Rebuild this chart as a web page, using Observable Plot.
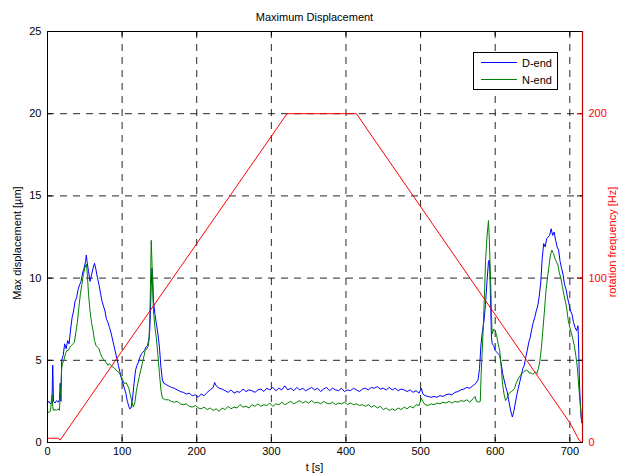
<!DOCTYPE html>
<html><head><meta charset="utf-8">
<script src="https://cdn.jsdelivr.net/npm/d3@7"></script>
<script src="https://cdn.jsdelivr.net/npm/@observablehq/plot@0.6"></script>
<style>
body{margin:0;background:#fff}
svg{font-family:"Liberation Sans",Arial,Helvetica,sans-serif}
</style>
</head><body><div id="chart"></div>
<script>
const title = "Maximum Displacement";
const xLabel = "t [s]";
const yLabel = "Max displacement [µm]";
const y2Label = "rotation frequency [Hz]";
const seriesNames = ["D-end", "N-end"];
const xTicks = [0, 100, 200, 300, 400, 500, 600, 700];
const yTicks = [0, 5, 10, 15, 20, 25];
const y2Ticks = [0, 100, 200];

// D-end [t (s), displacement (µm)]
const dEnd = [[0,2.4],[2,2.5],[4,2.35],[6,2.45],[7,4.7],[8,2.5],[10,2.4],[12,2.55],[14,2.45],[16,2.6],[17,3.6],[18,2.5],[19,5.0],[21,5.3],[23,6.0],[25,5.7],[27,6.2],[29,6.0],[31,6.9],[33,7.6],[35,8.0],[37,8.6],[39,8.8],[41,9.3],[43,9.6],[45,9.8],[47,10.3],[49,10.6],[51,11.0],[52,11.4],[53,11.0],[55,10.4],[57,9.8],[59,10.2],[61,10.6],[63,10.9],[65,10.5],[67,10.0],[69,9.6],[71,9.1],[73,8.6],[75,8.3],[77,8.0],[79,7.5],[81,7.3],[83,7.0],[85,6.7],[87,6.3],[89,5.9],[91,5.5],[93,5.1],[95,4.7],[97,4.3],[99,3.9],[101,3.6],[103,3.3],[105,3.0],[107,2.5],[109,2.2],[110,2.05],[112,2.1],[114,2.7],[116,3.6],[118,4.4],[120,4.7],[122,4.9],[124,5.2],[126,5.4],[128,5.5],[130,5.6],[132,5.8],[134,5.9],[136,6.3],[137,6.8],[138,8.0],[139,9.6],[140,10.6],[141,10.0],[142,8.6],[144,7.8],[146,7.2],[148,6.6],[150,5.8],[152,4.6],[154,3.8],[156,3.6],[158,3.55],[160,3.5],
[162,3.45],[166,3.35],[170,3.3],[174,3.2],[178,3.1],[182,3.05],[186,2.95],[190,3.0],[194,2.85],[198,2.9],[202,2.75],[206,2.95],[210,2.85],[214,3.05],[218,3.2],[222,3.35],[224,3.65],[226,3.45],[230,3.3],[234,3.25],[238,3.15],[242,3.05],[246,3.2],[250,3.0],[254,3.1],[258,3.05],[262,3.25],[266,3.1],[270,3.2],[274,3.15],[278,3.05],[282,3.2],[286,3.25],[290,3.1],[294,3.3],[298,3.2],[302,3.35],[306,3.15],[310,3.3],[314,3.2],[318,3.45],[322,3.2],[326,3.3],[330,3.15],[334,3.35],[338,3.2],[342,3.3],[346,3.15],[350,3.25],[354,3.35],[358,3.2],[362,3.3],[366,3.1],[370,3.25],[374,3.35],[378,3.15],[382,3.3],[386,3.2],[390,3.15],[394,3.3],[398,3.1],[402,3.2],[406,3.15],[410,3.3],[414,3.2],[418,3.1],[422,3.25],[426,3.3],[430,3.2],[434,3.35],[438,3.3],[442,3.4],[446,3.25],[450,3.3],[454,3.2],[458,3.35],[462,3.2],[466,3.3],[470,3.15],[474,3.25],[478,3.2],[482,3.1],[486,3.2],[490,3.05],[494,3.15],[498,3.0],[501,3.3],[503,2.95],[506,2.85],[510,2.8],[514,2.75],[518,2.8],[522,2.75],[526,2.85],[530,2.8],[534,2.9],[538,2.95],[542,2.9],[546,3.05],[550,3.1],[554,3.2],[558,3.25],[562,3.35],[566,3.3],[570,3.45],[574,3.6],[577,3.8],
[579,4.5],[581,6.0],[583,6.8],[585,7.4],[587,8.4],[589,9.8],[591,11.0],[592,11.1],[593,10.2],[594,8.2],[595,6.4],[596,6.0],[598,5.9],[600,5.6],[602,5.5],[604,5.4],[606,5.3],[608,4.8],[610,4.2],[612,3.8],[614,3.4],[616,3.1],[618,2.6],[620,2.1],[622,1.7],[623,1.55],[625,1.9],[627,2.4],[629,2.9],[631,3.3],[633,3.7],[635,4.1],[637,4.5],[639,4.7],[641,5.2],[643,5.6],[645,6.1],[647,6.4],[649,6.9],[651,7.3],[653,7.6],[655,8.0],[657,8.3],[659,8.9],[661,9.7],[663,11.2],[665,12.1],[667,11.9],[669,12.4],[671,12.5],[673,12.6],[675,13.0],[677,12.6],[679,12.8],[681,12.3],[683,11.9],[685,11.7],[687,11.0],[689,10.6],[691,10.2],[693,9.6],[695,9.3],[697,8.8],[699,8.4],[701,8.0],[703,7.8],[705,7.3],[707,7.0],[709,6.8],[711,7.1],[712,5.5],[713,3.5],[714,2.5],[715,1.6],[716,1.2]];

// N-end [t (s), displacement (µm)]
const nEnd = [[0,1.8],[2,1.85],[4,1.9],[6,2.9],[7,2.2],[8,1.95],[10,2.0],[12,1.95],[14,2.05],[16,1.95],[17,2.9],[18,3.4],[19,4.5],[20,4.8],[22,5.0],[24,5.4],[26,5.6],[28,5.6],[30,5.8],[32,5.9],[34,6.0],[36,6.1],[38,6.7],[40,7.3],[42,8.2],[44,9.0],[46,9.6],[48,10.2],[50,10.6],[52,10.85],[53,10.5],[55,9.0],[57,8.0],[59,7.3],[61,6.8],[63,6.2],[65,5.9],[67,5.8],[69,5.7],[71,5.4],[73,5.2],[75,5.05],[77,4.95],[79,4.85],[81,4.7],[83,4.8],[85,4.7],[87,4.6],[89,4.55],[91,4.45],[93,4.35],[95,4.3],[97,4.15],[99,4.0],[101,3.8],[103,3.55],[105,3.65],[107,3.5],[109,3.3],[111,2.9],[113,2.5],[115,2.15],[117,2.4],[119,3.1],[121,3.6],[123,4.0],[125,4.4],[127,4.8],[129,5.2],[131,5.6],[133,5.7],[135,5.85],[136,6.2],[137,7.5],[138,9.5],[139,12.3],[140,11.0],[141,9.2],[142,8.0],[144,7.0],[146,6.3],[148,5.3],[150,4.2],[152,3.2],[154,2.7],[156,2.65],[158,2.6],
[162,2.6],[166,2.5],[170,2.45],[174,2.5],[178,2.35],[182,2.3],[186,2.35],[190,2.2],[194,2.15],[198,2.25],[202,2.1],[206,2.05],[210,2.15],[214,2.0],[218,2.1],[222,1.95],[226,2.05],[230,1.9],[234,2.1],[238,2.0],[242,2.2],[246,2.05],[250,2.15],[254,2.1],[258,2.3],[262,2.15],[266,2.2],[270,2.1],[274,2.3],[278,2.2],[282,2.35],[286,2.2],[290,2.3],[294,2.25],[298,2.4],[302,2.2],[306,2.35],[310,2.3],[314,2.45],[318,2.3],[322,2.4],[326,2.5],[330,2.35],[334,2.45],[338,2.55],[342,2.4],[346,2.5],[350,2.4],[354,2.55],[358,2.4],[362,2.45],[366,2.35],[370,2.5],[374,2.4],[378,2.35],[382,2.45],[386,2.3],[390,2.4],[394,2.35],[398,2.45],[402,2.3],[406,2.4],[410,2.3],[414,2.35],[418,2.25],[422,2.3],[426,2.2],[430,2.3],[434,2.15],[438,2.25],[442,2.1],[446,2.2],[450,2.0],[454,2.1],[458,1.95],[462,2.05],[466,1.95],[470,2.1],[474,2.0],[478,2.15],[482,2.05],[486,2.2],[490,2.1],[494,2.3],[498,2.25],[501,2.7],[503,2.5],[506,2.3],[510,2.25],[514,2.35],[518,2.3],[522,2.4],[526,2.35],[530,2.45],[534,2.4],[538,2.5],[542,2.4],[546,2.5],[550,2.45],[554,2.55],[558,2.5],[562,2.6],[566,2.45],[570,2.65],[573,2.8],[575,2.5],[578,2.45],
[580,2.5],[581,4.0],[582,5.0],[584,7.0],[586,9.5],[587,11.0],[589,12.5],[591,13.5],[592,12.5],[593,11.0],[594,9.6],[595,7.8],[596,6.6],[598,6.9],[600,6.8],[602,6.5],[604,6.0],[606,5.6],[608,4.6],[610,3.5],[612,2.9],[614,2.55],[616,2.7],[618,2.95],[620,3.05],[622,3.1],[624,3.2],[626,3.3],[628,3.6],[630,3.8],[632,3.95],[634,4.1],[636,4.2],[638,4.3],[640,4.35],[642,4.4],[644,4.35],[646,4.2],[648,4.25],[650,4.15],[652,4.2],[654,4.3],[656,4.2],[658,4.5],[660,5.0],[662,5.8],[664,6.9],[666,8.0],[668,9.2],[670,10.0],[672,10.7],[674,11.4],[676,11.7],[678,11.5],[680,11.2],[682,11.0],[684,10.8],[686,10.3],[688,10.0],[690,9.5],[692,9.0],[694,8.6],[696,8.1],[698,7.4],[700,7.0],[702,6.7],[704,6.3],[706,5.9],[708,5.3],[710,4.6],[712,3.4],[714,2.3],[716,1.3]];

// rotation frequency [t (s), Hz]
const rotation = [[0,2.6],[14,2.6],[17,1.5],[321,200],[414,200],[700,12],[706,7],[710,3.5],[713,1],[716,0]];

const xMax = 717, yMax = 25, hzPerUnit = 10;
const blue = "#0000ff", green = "#008000", red = "#ff0000";
const gridDash = "7,6";
const tx = 6.7, ty = 0.3; // inward tick lengths in data units

const chart = Plot.plot({
  width: 619, height: 473,
  marginLeft: 47, marginRight: 37, marginTop: 31, marginBottom: 31,
  style: {fontFamily: "'Liberation Sans', Arial, Helvetica, sans-serif", fontSize: "11px", background: "#fff", color: "#000"},
  x: {domain: [0, xMax]},
  y: {domain: [0, yMax]},
  marks: [
    Plot.ruleX(xTicks.filter(d => d > 0), {stroke: "#000", strokeWidth: 1, strokeDasharray: gridDash, strokeOpacity: 0.85}),
    Plot.ruleY(yTicks.filter(d => d > 0 && d < yMax), {stroke: "#000", strokeWidth: 1, strokeDasharray: gridDash, strokeOpacity: 0.85}),
    Plot.line(dEnd, {x: d => d[0], y: d => d[1], stroke: blue, strokeWidth: 1}),
    Plot.line(nEnd, {x: d => d[0], y: d => d[1], stroke: green, strokeWidth: 1}),
    Plot.line(rotation, {x: d => d[0], y: d => d[1] / hzPerUnit, stroke: red, strokeWidth: 1}),
    // inward ticks
    Plot.ruleX(xTicks, {y1: 0, y2: ty, stroke: "#000"}),
    Plot.ruleX(xTicks, {y1: yMax - ty, y2: yMax, stroke: "#000"}),
    Plot.ruleY(yTicks, {x1: 0, x2: tx, stroke: "#000"}),
    Plot.ruleY(yTicks, {x1: xMax - tx, x2: xMax, stroke: "#000"}),
    Plot.ruleY(y2Ticks, {y: d => d / hzPerUnit, x1: xMax - tx, x2: xMax, stroke: red}),
    Plot.frame({stroke: "#000"}),
    Plot.ruleX([xMax], {stroke: "#c00000", strokeWidth: 1.2}),
    Plot.axisX({ticks: xTicks, tickSize: 0, tickPadding: 5, tickFormat: d => String(d), label: null}),
    Plot.axisY({ticks: yTicks, tickSize: 0, tickPadding: 6, tickFormat: d => String(d), label: null}),
    Plot.axisY({anchor: "right", ticks: y2Ticks.map(d => d / hzPerUnit), tickSize: 0, tickPadding: 6, tickFormat: d => String(Math.round(d * hzPerUnit)), color: red, label: null})
  ]
});

const svg = d3.select(chart);
svg.append("text").attr("x", 314.5).attr("y", 21).attr("text-anchor", "middle").attr("font-size", 11).attr("fill", "#000").text(title);
svg.append("text").attr("x", 314.5).attr("y", 471).attr("text-anchor", "middle").attr("font-size", 11).attr("fill", "#000").text(xLabel);
svg.append("text").attr("transform", "translate(21,243) rotate(-90)").attr("text-anchor", "middle").attr("font-size", 11).attr("fill", "#000").text(yLabel);
svg.append("text").attr("transform", "translate(616,242) rotate(-90)").attr("text-anchor", "middle").attr("font-size", 11).attr("fill", red).text(y2Label);

const lg = svg.append("g");
lg.append("rect").attr("x", 473.5).attr("y", 52.5).attr("width", 84).attr("height", 37).attr("fill", "#fff").attr("stroke", "#000");
[[blue, 62.5], [green, 79.5]].forEach(([c, yy], i) => {
  lg.append("line").attr("x1", 481).attr("x2", 517).attr("y1", yy).attr("y2", yy).attr("stroke", c);
  lg.append("text").attr("x", 522).attr("y", yy + 4).attr("text-anchor", "start").attr("font-size", 11).attr("fill", "#000").text(seriesNames[i]);
});

document.getElementById("chart").appendChild(chart);
</script>
</body></html>
